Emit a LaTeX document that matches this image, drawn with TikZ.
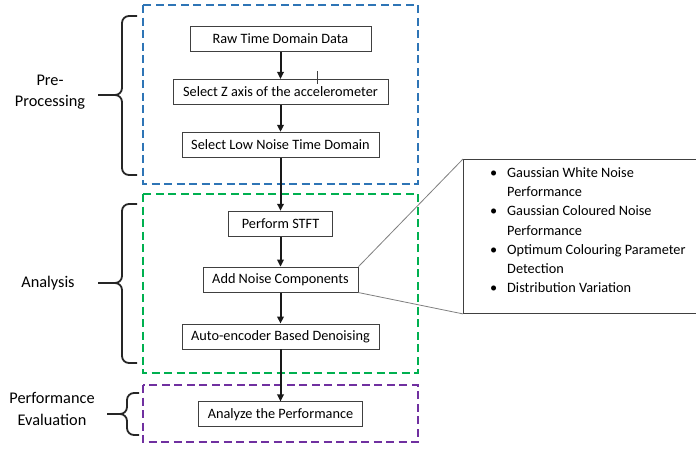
\documentclass[tikz,border=0pt]{standalone}
\usepackage{fontspec}
\setmainfont{Carlito}
\usetikzlibrary{arrows.meta,positioning}
\definecolor{grpblue}{HTML}{2E75B6}
\definecolor{grpgreen}{HTML}{00B050}
\definecolor{grppurple}{HTML}{7030A0}
\definecolor{boxline}{HTML}{404040}
\definecolor{callline}{HTML}{7F7F7F}
\newcommand{\bul}{\makebox[17pt][l]{\textbullet}}
\newcommand{\hang}{\makebox[17pt]{}}
\tikzset{stepbox/.style={draw=boxline,line width=0.9pt,minimum height=25pt,
  inner sep=0pt,font=\fontsize{14.3}{17}\selectfont},
  flow/.style={-{Triangle[length=7pt,width=6.5pt]},line width=2pt,draw=black!90},
  group/.style={dash pattern=on 8pt off 4.5pt,line width=2pt},
  sidebrace/.style={line width=1.8pt,rounded corners=7pt,draw=black!85},
  stage/.style={align=center,font=\fontsize{16.3}{21.5}\selectfont},
  callbox/.style={draw=boxline,line width=0.9pt,anchor=north west,
  minimum width=250pt,minimum height=154pt},
  notes/.style={anchor=north west,inner sep=0pt,align=left,
  font=\fontsize{14.3}{19.3}\selectfont},
  zoomline/.style={draw=callline,line width=0.8pt}}

\begin{document}
\begin{tikzpicture}[x=1pt,y=-1pt,node distance=27pt]
\useasboundingbox (0,0) rectangle (696,448);
% groups
\draw[group,grpblue] (143,5) rectangle (418,184);
\draw[group,grpgreen] (143,194) rectangle (418,373);
\draw[group,grppurple] (143,385) rectangle (418,442);
% steps
\node[stepbox,minimum width=181pt] (raw) at (280.5,39) {Raw Time Domain Data};
\node[stepbox,minimum width=215pt,below=of raw] (selz) {Select Z axis of the accelerometer};
\node[stepbox,minimum width=197pt,below=27pt of selz] (sellow) {Select Low Noise Time Domain};
\node[stepbox,minimum width=104pt,below=53pt of sellow] (stft) {Perform STFT};
\node[stepbox,minimum width=155pt,below=30pt of stft] (addnoise) {Add Noise Components};
\node[stepbox,minimum width=197pt,below=31pt of addnoise] (autoenc) {Auto-encoder Based Denoising};
\node[stepbox,minimum width=164pt,below=52pt of autoenc] (analyze) {Analyze the Performance};
\foreach \a/\b in {raw/selz,selz/sellow,sellow/stft,stft/addnoise,addnoise/autoenc,autoenc/analyze}
\draw[flow] (\a)--(\b);
\draw[boxline,line width=0.7pt] (317,71) -- (317,84);
% details
\node[callbox] (callout) at (463,159) {};
\node[notes,xshift=27pt,yshift=-8pt] (list) at (callout.north west) {\bul Gaussian White Noise\\
  \hang Performance\\
  \bul Gaussian Coloured Noise\\ \hang Performance\\
  \bul Optimum Colouring Parameter\\ \hang Detection\\
  \bul Distribution Variation};
\draw[zoomline] (addnoise.north east) -- (callout.north west);
\draw[zoomline] (addnoise.south east) -- (callout.south west);
% stages
\node[stage] (pre) at (50,92) {Pre-\\Processing};
\node[stage] (ana) at (48,283) {Analysis};
\node[stage] (perf) at (52,409) {Performance\\Evaluation};
\draw[sidebrace] (137,16) -- (122,16) -- (122,95) -- (98,95);
\draw[sidebrace] (137,175) -- (122,175) -- (122,95) -- (98,95);
\draw[sidebrace] (137,204) -- (122,204) -- (122,283) -- (98,283);
\draw[sidebrace] (137,363) -- (122,363) -- (122,283) -- (98,283);
\draw[sidebrace] (139,393) -- (127,393) -- (127,414) -- (107,414);
\draw[sidebrace] (139,435) -- (127,435) -- (127,414) -- (107,414);
\end{tikzpicture}
\end{document}
